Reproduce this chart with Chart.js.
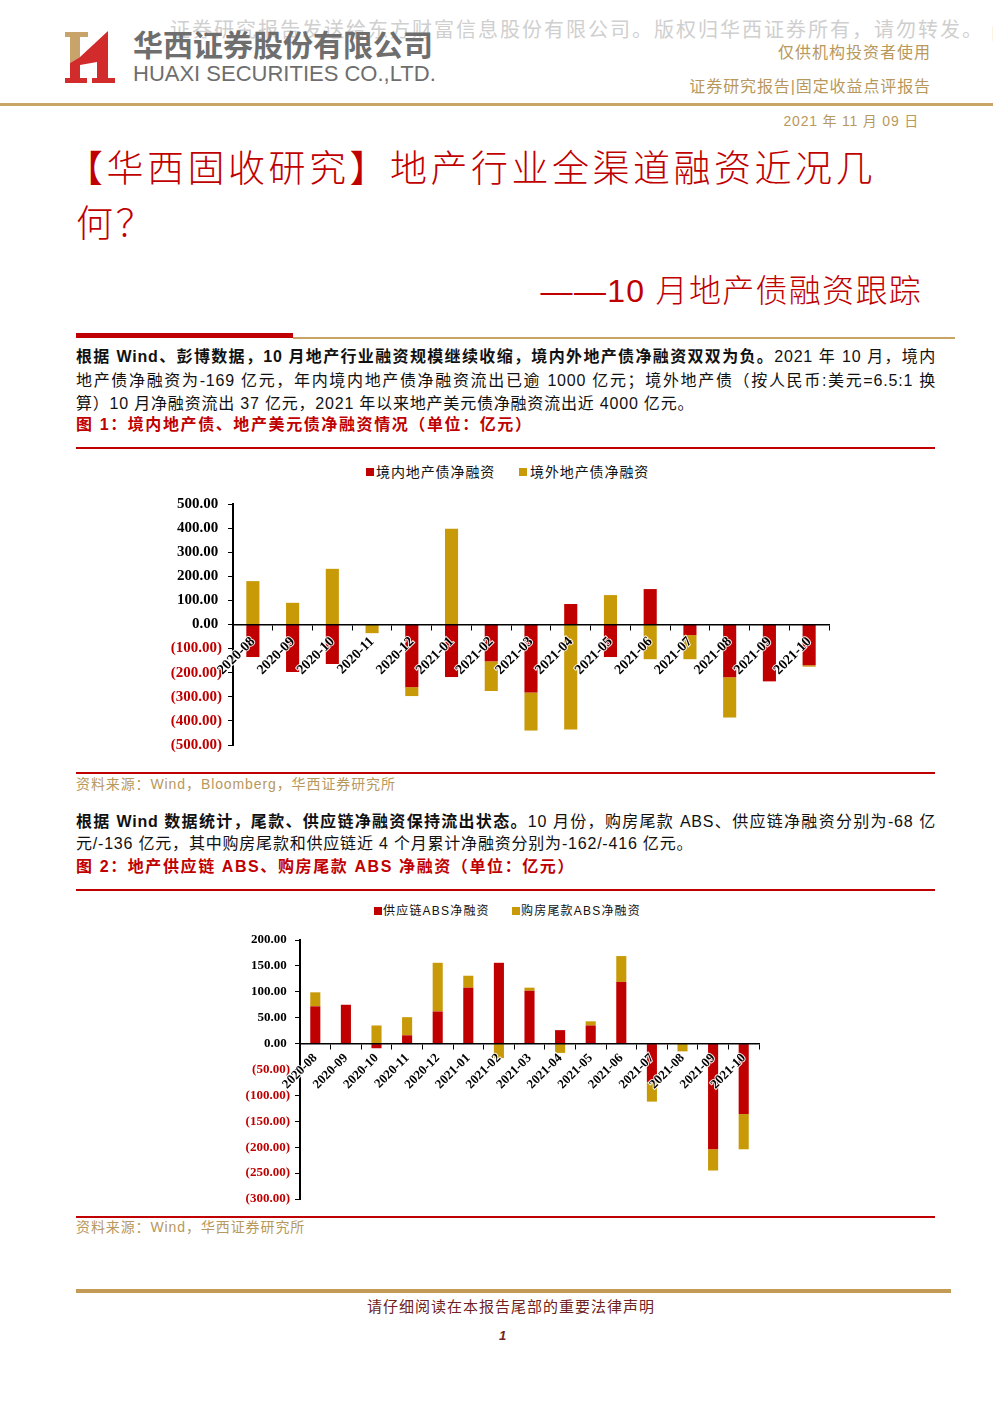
<!DOCTYPE html>
<html><head><meta charset="utf-8">
<script src="https://cdn.jsdelivr.net/npm/chart.js@4.4.1/dist/chart.umd.min.js"></script>
<style>
html,body{margin:0;padding:0;background:#fff;}
body{width:993px;height:1404px;position:relative;overflow:hidden;font-family:"Liberation Sans","Noto Sans CJK SC",sans-serif;}
.a{position:absolute;white-space:nowrap;}
.gold{color:#b8985c;}
.red{color:#c00000;}
.line{position:absolute;}
.p{position:absolute;left:76px;font-size:16px;letter-spacing:0.8px;line-height:20px;color:#111;white-space:nowrap;}
.j{width:860px;text-align:justify;text-align-last:justify;white-space:normal;}
.p b{font-weight:700;}
.cap{position:absolute;left:76px;font-size:16px;letter-spacing:1.6px;line-height:20px;font-weight:700;color:#c00000;white-space:nowrap;}
.src{position:absolute;left:76px;font-size:14px;letter-spacing:0.9px;line-height:18px;color:#b8985c;white-space:nowrap;}
.lg{position:absolute;white-space:nowrap;color:#111;}
.sq{position:absolute;width:8px;height:8px;}
</style></head>
<body>
<!-- header -->
<div class="a" style="left:170px;top:17px;font-size:20px;letter-spacing:2px;line-height:26px;color:#cfcfcf;">证券研究报告发送给东方财富信息股份有限公司。版权归华西证券所有，请勿转发。 p</div>
<svg class="a" style="left:0;top:0;" width="130" height="95">
  <polygon points="65,32 88,32 88,37 80,37 80,57 70,63 70,37 65,37" fill="#c9a46a"/>
  <polygon points="70,63 80,57 108,31 108,78 115,78 115,83 92,83 92,78 97,78 97,62 80,65 80,78 87,78 87,83 65,83 65,78 70,78" fill="#d22b2b"/>
</svg>
<div class="a" style="left:133px;top:29px;font-size:30px;line-height:34px;font-weight:700;color:#6e6e6e;">华西证券股份有限公司</div>
<div class="a" style="left:133px;top:62px;font-size:22px;line-height:24px;color:#6e6e6e;">HUAXI SECURITIES CO.,LTD.</div>
<div class="a gold" style="right:62px;top:43px;font-size:16px;letter-spacing:1px;line-height:20px;">仅供机构投资者使用</div>
<div class="a gold" style="right:62px;top:77px;font-size:16px;letter-spacing:0.9px;line-height:20px;">证券研究报告|固定收益点评报告</div>
<div class="line" style="left:0;top:103px;width:993px;height:3px;background:#c8a467;"></div>
<div class="a gold" style="right:74px;top:112px;font-size:14px;letter-spacing:0.8px;line-height:18px;">2021 年 11 月 09 日</div>

<div class="a red" style="left:66px;top:148px;font-size:37px;letter-spacing:3.5px;line-height:44px;font-weight:300;">【华西固收研究】地产行业全渠道融资近况几</div>
<div class="a red" style="left:76px;top:203px;font-size:37px;letter-spacing:2.7px;line-height:44px;font-weight:300;">何？</div>
<div class="a red" style="right:71px;top:272px;font-size:32px;letter-spacing:1.3px;line-height:38px;font-weight:300;">——10 月地产债融资跟踪</div>

<div class="line" style="left:76px;top:333px;width:217px;height:5px;background:#c00000;"></div>
<div class="line" style="left:293px;top:337px;width:662px;height:2px;background:#c8a467;"></div>

<div class="p j" style="top:347px;"><b>根据 Wind、彭博数据，10 月地产行业融资规模继续收缩，境内外地产债净融资双双为负。</b>2021 年 10 月，境内</div>
<div class="p j" style="top:371px;">地产债净融资为-169 亿元，年内境内地产债净融资流出已逾 1000 亿元；境外地产债（按人民币:美元=6.5:1 换</div>
<div class="p" style="top:394px;">算）10 月净融资流出 37 亿元，2021 年以来地产美元债净融资流出近 4000 亿元。</div>
<div class="cap" style="top:415px;">图 1：境内地产债、地产美元债净融资情况（单位：亿元）</div>
<div class="line" style="left:76px;top:447px;width:859px;height:2px;background:#c00000;"></div>

<div class="sq" style="left:366px;top:468px;background:#C00000;"></div>
<div class="lg" style="left:376px;top:463px;font-size:14px;letter-spacing:0.9px;line-height:18px;">境内地产债净融资</div>
<div class="sq" style="left:519px;top:468px;background:#C89A08;"></div>
<div class="lg" style="left:530px;top:463px;font-size:14px;letter-spacing:0.9px;line-height:18px;">境外地产债净融资</div>

<div class="a" style="left:0;top:450px;width:993px;height:320px;"><canvas id="c1" width="993" height="320"></canvas></div>

<div class="line" style="left:76px;top:772px;width:859px;height:2px;background:#c00000;"></div>
<div class="src" style="top:775px;">资料来源：Wind，Bloomberg，华西证券研究所</div>

<div class="p j" style="top:812px;"><b>根据 Wind 数据统计，尾款、供应链净融资保持流出状态。</b>10 月份，购房尾款 ABS、供应链净融资分别为-68 亿</div>
<div class="p" style="top:834px;">元/-136 亿元，其中购房尾款和供应链近 4 个月累计净融资分别为-162/-416 亿元。</div>
<div class="cap" style="top:857px;">图 2：地产供应链 ABS、购房尾款 ABS 净融资（单位：亿元）</div>
<div class="line" style="left:76px;top:889px;width:859px;height:2px;background:#c00000;"></div>

<div class="sq" style="left:374px;top:907px;background:#C00000;"></div>
<div class="lg" style="left:383px;top:903px;font-size:12px;letter-spacing:1.2px;line-height:16px;">供应链ABS净融资</div>
<div class="sq" style="left:512px;top:907px;background:#C89A08;"></div>
<div class="lg" style="left:521px;top:903px;font-size:12px;letter-spacing:1.2px;line-height:16px;">购房尾款ABS净融资</div>

<div class="a" style="left:0;top:892px;width:993px;height:323px;"><canvas id="c2" width="993" height="323"></canvas></div>

<div class="line" style="left:76px;top:1216px;width:859px;height:2px;background:#c00000;"></div>
<div class="src" style="top:1218px;">资料来源：Wind，华西证券研究所</div>

<div class="line" style="left:76px;top:1289px;width:875px;height:4px;background:#c39a56;"></div>
<div class="a" style="left:0;width:1022px;text-align:center;top:1298px;font-size:15px;letter-spacing:1px;line-height:18px;color:#6e2222;">请仔细阅读在本报告尾部的重要法律声明</div>
<div class="a" style="left:499px;top:1328px;font-size:13px;line-height:16px;font-weight:700;font-style:italic;color:#6e2222;">1</div>

<script>
// ---- data ----
const months = ['2020-08','2020-09','2020-10','2020-11','2020-12','2021-01','2021-02','2021-03','2021-04','2021-05','2021-06','2021-07','2021-08','2021-09','2021-10'];
const domesticNet = [-135,-197,-164,0,-260,-218,-153,-282,85,-135,147,-44,-219,-236,-169];
const overseasNet = [180,90,231,-36,-37,397,-123,-158,-436,122,-144,-100,-167,0,-6];
const supplyChainAbs = [72,75,-9,16,62,108,156,102,26,35,119,-74,0,-204,-136];
const tailPaymentAbs = [27,0,35,35,94,23,-28,6,-18,8,50,-38,-15,-41,-68];
const chart1Ticks = {min:-500, max:500, step:100};
const chart2Ticks = {min:-300, max:200, step:50};
const legend1 = ['境内地产债净融资','境外地产债净融资'];
const legend2 = ['供应链ABS净融资','购房尾款ABS净融资'];

const RED = '#C00000', GOLD = '#C89A08';
const fmt = v => v < 0 ? '(' + Math.abs(v).toFixed(2) + ')' : v.toFixed(2) + ' ';
const serif = 'Liberation Serif';

function makeChart(id, d0, d1, labels, tk, opt) {
  return new Chart(document.getElementById(id), {
    type: 'bar',
    data: {
      labels: months,
      datasets: [
        {label: labels[0], data: d0, backgroundColor: RED, categoryPercentage: 1, barPercentage: 0.33},
        {label: labels[1], data: d1, backgroundColor: GOLD, categoryPercentage: 1, barPercentage: 0.33}
      ]
    },
    options: {
      responsive: false, animation: false, devicePixelRatio: 1,
      layout: {padding: opt.pad},
      plugins: {legend: {display: false}, tooltip: {enabled: false}},
      scales: {
        x: {
          stacked: true, position: {y: 0}, offset: true,
          grid: {offset: true, drawOnChartArea: false, drawTicks: true, tickLength: 5, color: '#000', lineWidth: 1, z: 1},
          border: {color: '#000', width: 1.5, z: 1},
          ticks: {z: 2, autoSkip: false, maxRotation: 45, minRotation: 45, padding: opt.xPad, color: '#000',
                  textStrokeColor: 'rgba(255,255,255,0.9)', textStrokeWidth: 2,
                  font: {family: serif, weight: 'bold', size: opt.xSize}}
        },
        y: {
          stacked: true, min: tk.min, max: tk.max,
          afterFit: s => { s.width = opt.yW; },
          grid: {drawOnChartArea: false, drawTicks: true, tickLength: 5, color: '#000', lineWidth: 1},
          border: {color: '#000', width: 2},
          ticks: {stepSize: tk.step, callback: v => fmt(v), padding: opt.yPad,
                  color: c => (c.tick && c.tick.value < 0) ? RED : '#000',
                  font: {family: serif, weight: 'bold', size: opt.ySize}}
        }
      }
    }
  });
}

makeChart('c1', domesticNet, overseasNet, legend1, chart1Ticks,
  {pad: {left: 153, right: 164, top: 54, bottom: 25}, yW: 80, xSize: 14, ySize: 15, xPad: 4, yPad: 6});
makeChart('c2', supplyChainAbs, tailPaymentAbs, legend2, chart2Ticks,
  {pad: {left: 230, right: 234, top: 48, bottom: 16}, yW: 70, xSize: 13, ySize: 13, xPad: 2, yPad: 5});
</script>
</body></html>
